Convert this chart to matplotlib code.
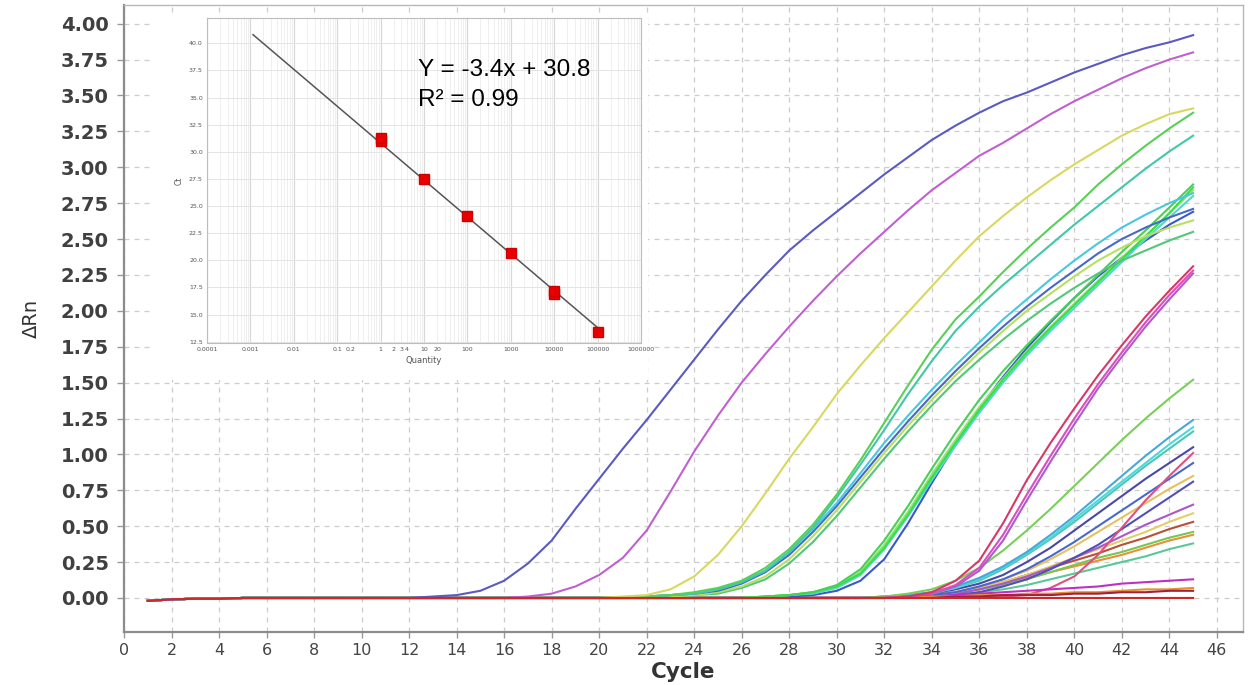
import numpy as np
import matplotlib
matplotlib.use("Agg")
import matplotlib.pyplot as plt
from matplotlib.patches import Rectangle
from matplotlib.ticker import FixedLocator, NullFormatter

# ---------------- data ----------------
cycles = list(range(1, 46))
baseline_lead = [-0.02, -0.01, -0.005, -0.005, 0.0]   # cycles 1-5 baseline readings

# Amplification curves: values from the cycle where each leaves the baseline up to cycle 45
blue_ct16 = [0.01, 0.02, 0.05, 0.12, 0.24, 0.40, 0.62, 0.83, 1.04, 1.24, 1.45, 1.66, 1.87,
             2.07, 2.25, 2.42, 2.56, 2.69, 2.82, 2.95, 3.07, 3.19, 3.29, 3.38, 3.46, 3.52,
             3.59, 3.66, 3.72, 3.78, 3.83, 3.87, 3.92]
magenta_ct20 = [0.01, 0.03, 0.08, 0.16, 0.28, 0.47, 0.74, 1.02, 1.27, 1.50, 1.70, 1.89, 2.07,
                2.24, 2.40, 2.55, 2.70, 2.84, 2.96, 3.08, 3.17, 3.27, 3.37, 3.46, 3.54, 3.62,
                3.69, 3.75, 3.80]
yellow_ct24 = [0.01, 0.02, 0.06, 0.15, 0.30, 0.50, 0.73, 0.97, 1.19, 1.42, 1.62, 1.81, 1.99,
               2.17, 2.35, 2.52, 2.66, 2.79, 2.91, 3.02, 3.12, 3.22, 3.30, 3.37, 3.41]
green_ct27a = [0.01, 0.02, 0.04, 0.07, 0.12, 0.21, 0.34, 0.51, 0.72, 0.96, 1.22, 1.48, 1.73,
               1.94, 2.10, 2.27, 2.43, 2.58, 2.72, 2.88, 3.02, 3.15, 3.27, 3.38]
teal_ct27b = [0.01, 0.02, 0.03, 0.06, 0.11, 0.19, 0.32, 0.49, 0.70, 0.93, 1.17, 1.42, 1.65,
              1.86, 2.03, 2.18, 2.32, 2.46, 2.60, 2.73, 2.86, 2.99, 3.11, 3.22]
cyan_ct28a = [0.01, 0.02, 0.03, 0.06, 0.11, 0.19, 0.32, 0.48, 0.66, 0.87, 1.08, 1.27, 1.45,
              1.62, 1.78, 1.94, 2.08, 2.22, 2.35, 2.47, 2.58, 2.67, 2.75, 2.82]
blue_ct28b = [0.01, 0.02, 0.03, 0.05, 0.10, 0.18, 0.30, 0.46, 0.64, 0.84, 1.04, 1.23, 1.41,
              1.58, 1.74, 1.89, 2.03, 2.16, 2.28, 2.40, 2.50, 2.58, 2.65, 2.71]
ygreen_ct28c = [0.01, 0.01, 0.02, 0.04, 0.08, 0.15, 0.27, 0.43, 0.61, 0.81, 1.01, 1.20, 1.38,
                1.55, 1.71, 1.86, 2.00, 2.12, 2.24, 2.35, 2.44, 2.52, 2.58, 2.63]
green_ct28d = [0.00, 0.01, 0.02, 0.03, 0.07, 0.13, 0.24, 0.39, 0.57, 0.77, 0.97, 1.16, 1.34,
               1.51, 1.66, 1.80, 1.93, 2.05, 2.16, 2.26, 2.35, 2.42, 2.49, 2.55]
green_ct32a = [0.01, 0.02, 0.04, 0.09, 0.20, 0.40, 0.64, 0.90, 1.15, 1.38, 1.58, 1.76, 1.93,
               2.09, 2.25, 2.41, 2.56, 2.72, 2.88]
lgreen_ct32b = [0.01, 0.02, 0.04, 0.08, 0.18, 0.37, 0.60, 0.86, 1.10, 1.33, 1.53, 1.72, 1.89,
                2.05, 2.21, 2.37, 2.52, 2.68, 2.84]
cyan_ct32c = [0.01, 0.02, 0.03, 0.07, 0.16, 0.34, 0.57, 0.82, 1.06, 1.29, 1.50, 1.69, 1.86,
              2.02, 2.18, 2.34, 2.50, 2.65, 2.80]
bgreen_ct32d = [0.01, 0.02, 0.04, 0.08, 0.17, 0.35, 0.58, 0.84, 1.08, 1.31, 1.52, 1.71, 1.88,
                2.04, 2.20, 2.36, 2.52, 2.68, 2.86]
royal_ct33 = [0.00, 0.01, 0.02, 0.05, 0.12, 0.27, 0.52, 0.80, 1.07, 1.32, 1.54, 1.74, 1.92,
              2.09, 2.24, 2.37, 2.49, 2.60, 2.69]
red_ct37 = [0.00, 0.01, 0.04, 0.12, 0.26, 0.52, 0.82, 1.08, 1.32, 1.55, 1.76, 1.96, 2.14, 2.31]
pink_ct37 = [0.00, 0.01, 0.03, 0.09, 0.21, 0.44, 0.72, 0.99, 1.25, 1.49, 1.71, 1.92, 2.11, 2.28]
purple_ct37 = [0.00, 0.01, 0.03, 0.08, 0.19, 0.40, 0.68, 0.95, 1.21, 1.46, 1.68, 1.89, 2.08, 2.26]
low_green = [0.01, 0.03, 0.06, 0.12, 0.21, 0.33, 0.47, 0.62, 0.78, 0.94, 1.10, 1.25, 1.39, 1.52]
low_skyblue = [0.01, 0.02, 0.04, 0.08, 0.14, 0.22, 0.32, 0.44, 0.57, 0.71, 0.85, 0.99, 1.12, 1.24]
low_cyan = [0.01, 0.02, 0.04, 0.07, 0.13, 0.21, 0.31, 0.42, 0.55, 0.68, 0.81, 0.94, 1.07, 1.19]
low_turq = [0.01, 0.02, 0.03, 0.07, 0.12, 0.20, 0.30, 0.41, 0.53, 0.66, 0.79, 0.92, 1.04, 1.16]
low_navy = [0.00, 0.01, 0.03, 0.06, 0.10, 0.16, 0.25, 0.35, 0.47, 0.59, 0.71, 0.83, 0.94, 1.05]
late_pink = [0.00, 0.00, 0.01, 0.01, 0.01, 0.02, 0.07, 0.15, 0.30, 0.49, 0.68, 0.85, 1.01]
low_blue = [0.00, 0.01, 0.02, 0.04, 0.08, 0.13, 0.20, 0.29, 0.39, 0.50, 0.61, 0.72, 0.83, 0.94]
low_gold = [0.00, 0.01, 0.02, 0.04, 0.08, 0.13, 0.19, 0.27, 0.36, 0.46, 0.56, 0.66, 0.76, 0.85]
low_slate = [0.00, 0.00, 0.01, 0.02, 0.04, 0.08, 0.13, 0.20, 0.28, 0.37, 0.48, 0.59, 0.70, 0.81]
low_violet = [0.00, 0.01, 0.02, 0.03, 0.06, 0.10, 0.15, 0.21, 0.28, 0.35, 0.43, 0.51, 0.58, 0.65]
low_yellow = [0.00, 0.01, 0.02, 0.04, 0.07, 0.11, 0.16, 0.22, 0.28, 0.34, 0.40, 0.46, 0.53, 0.59]
low_brown = [0.00, 0.01, 0.02, 0.04, 0.07, 0.11, 0.16, 0.21, 0.26, 0.31, 0.37, 0.42, 0.48, 0.53]
low_lgreen = [0.00, 0.01, 0.02, 0.03, 0.06, 0.09, 0.13, 0.18, 0.23, 0.28, 0.32, 0.37, 0.42, 0.46]
low_orange = [0.00, 0.01, 0.02, 0.04, 0.06, 0.10, 0.14, 0.18, 0.22, 0.26, 0.30, 0.35, 0.40, 0.44]
low_seagreen = [0.00, 0.00, 0.01, 0.02, 0.04, 0.06, 0.09, 0.13, 0.17, 0.21, 0.25, 0.29, 0.34, 0.38]
flat_magenta = [0.00, 0.01, 0.01, 0.02, 0.03, 0.04, 0.05, 0.06, 0.07, 0.08, 0.10, 0.11, 0.12, 0.13]
flat_orange = [0.00, 0.00, 0.01, 0.01, 0.02, 0.02, 0.03, 0.03, 0.04, 0.04, 0.05, 0.06, 0.06, 0.07]
flat_darkred = [0.00, 0.00, 0.00, 0.01, 0.01, 0.02, 0.02, 0.02, 0.03, 0.03, 0.04, 0.04, 0.05, 0.05]
flat_red = [0.00, 0.00, 0.00, 0.00, 0.00]

curves = [
    (low_seagreen, "#58c898"), (low_orange, "#e8903a"), (low_lgreen, "#78c850"),
    (low_brown, "#b85038"), (low_yellow, "#e0d068"), (low_violet, "#a858c8"),
    (low_slate, "#5050b8"), (low_gold, "#e8c060"), (low_blue, "#4868d0"),
    (late_pink, "#e05080"), (low_navy, "#4848a8"), (low_turq, "#48c8b8"),
    (low_cyan, "#50d8d8"), (low_skyblue, "#48a8d8"), (low_green, "#78d058"),
    (flat_magenta, "#c030c0"), (flat_orange, "#e89030"), (flat_darkred, "#a02040"),
    (purple_ct37, "#b058d8"), (pink_ct37, "#d850b8"), (red_ct37, "#d83868"),
    (royal_ct33, "#3858d0"), (cyan_ct32c, "#50d8c8"), (lgreen_ct32b, "#98e070"),
    (bgreen_ct32d, "#38e048"), (green_ct32a, "#48d058"),
    (green_ct28d, "#50c878"), (ygreen_ct28c, "#b8e060"), (blue_ct28b, "#4868c8"),
    (cyan_ct28a, "#48c8e0"), (teal_ct27b, "#40c8a8"), (green_ct27a, "#58d058"),
    (yellow_ct24, "#d8d860"), (magenta_ct20, "#c060d0"), (blue_ct16, "#5a5ac0"),
    (flat_red, "#d02828"),
]

# Standard curve (inset)
std_quantity = [1, 1, 10, 100, 1000, 10000, 10000, 100000]
std_ct = [31.0, 31.3, 27.5, 24.1, 20.7, 16.9, 17.2, 13.4]
fit_slope = -3.4
fit_intercept = 30.8
fit_range = [0.00115, 100000]

x_ticks = list(range(0, 47, 2))
y_ticks = [i * 0.25 for i in range(17)]
inset_yticks = [12.5, 15.0, 17.5, 20.0, 22.5, 25.0, 27.5, 30.0, 32.5, 35.0, 37.5, 40.0]
inset_xticks = [1e-4, 1e-3, 1e-2, 0.1, 0.2, 1, 2, 3, 4, 10, 20, 100, 1000, 1e4, 1e5, 1e6]
inset_xlabels = ["0.0001", "0.001", "0.01", "0.1", "0.2", "1", "2", "3", "4", "10", "20",
                 "100", "1000", "10000", "100000", "1000000"]


def full_series(tail):
    n_zero = len(cycles) - len(tail)
    series = [0.0] * n_zero + list(tail)
    for i, v in enumerate(baseline_lead):
        if i < n_zero:
            series[i] = v
    return series


# ---------------- figure ----------------
W, H = 1250, 685
fig = plt.figure(figsize=(W / 100, H / 100), dpi=100)
fig.patch.set_facecolor("white")

L, R, T, B = 124, 1243, 5, 632
ax = fig.add_axes([L / W, 1 - B / H, (R - L) / W, (B - T) / H])
ax.set_xlim(0, 47.1)
ax.set_ylim(-0.237, 4.13)

for tail, col in curves:
    ax.plot(cycles, full_series(tail), color=col, lw=1.5, solid_joinstyle="round",
            zorder=3)

ax.set_xticks(x_ticks)
ax.set_yticks(y_ticks)
ax.set_yticklabels([f"{v:.2f}" for v in y_ticks])
ax.grid(True, color="#cccccc", lw=0.9, linestyle=(0, (4, 4)), zorder=0)
ax.set_axisbelow(True)
for sp in ax.spines.values():
    sp.set_color("#b8b8b8")
    sp.set_linewidth(1.0)
ax.spines["left"].set_color("#8c8c8c")
ax.spines["left"].set_linewidth(1.6)
ax.spines["bottom"].set_color("#8c8c8c")
ax.spines["bottom"].set_linewidth(1.6)
ax.tick_params(axis="y", direction="out", length=5, width=1, color="#999999",
               pad=6, labelsize=14, labelcolor="#404040")
ax.tick_params(axis="x", direction="out", length=4, width=1, color="#999999",
               pad=4, labelsize=11.5, labelcolor="#444444")
for lab in ax.get_yticklabels():
    lab.set_fontweight("bold")

ax.set_xlabel("Cycle", fontsize=15.5, fontweight="bold", color="#333333")
ax.xaxis.set_label_coords(0.5, -0.064)
ax.xaxis.label.set_va("center")
ax.set_ylabel("ΔRn", fontsize=14, color="#333333")
ax.yaxis.set_label_coords(-0.083, 0.5)
ax.yaxis.label.set_va("center")

# white backing for the inset
fig.patches.append(Rectangle((152 / W, 1 - 380 / H), (648 - 152) / W, (380 - 14) / H,
                             transform=fig.transFigure, facecolor="white",
                             edgecolor="none", zorder=5))

# ---------------- inset ----------------
iL, iR, iT, iB = 207, 641, 18, 343
ins = fig.add_axes([iL / W, 1 - iB / H, (iR - iL) / W, (iB - iT) / H], zorder=6)
ins.set_xscale("log")
ins.set_xlim(1e-4, 1e6)
ins.set_ylim(12.38, 42.33)

minor = [m * 10.0 ** e for e in range(-4, 6) for m in range(2, 10)]
for xv in minor:
    ins.axvline(xv, color="#ededed", lw=0.6, zorder=0)
for e in range(-4, 7):
    ins.axvline(10.0 ** e, color="#d8d8d8", lw=0.9, zorder=0)
for yv in inset_yticks:
    ins.axhline(yv, color="#e4e4e4", lw=0.7, zorder=0)

qline = np.array(fit_range, dtype=float)
ins.plot(qline, fit_slope * np.log10(qline) + fit_intercept, color="#555555", lw=1.1,
         zorder=2)
ins.plot(std_quantity, std_ct, linestyle="none", marker="s", markersize=7.5,
         color="#e80000", markeredgecolor="#d00000", zorder=3)

ins.xaxis.set_major_locator(FixedLocator(inset_xticks))
ins.xaxis.set_minor_formatter(NullFormatter())
ins.set_xticks(inset_xticks)
ins.set_xticklabels(inset_xlabels)
ins.set_yticks(inset_yticks)
ins.set_yticklabels([f"{v:.1f}" for v in inset_yticks])
ins.tick_params(axis="both", which="both", length=0, labelsize=4.5, labelcolor="#555555",
                pad=3)
for sp in ins.spines.values():
    sp.set_color("#bdbdbd")
    sp.set_linewidth(0.8)
ins.set_xlabel("Quantity", fontsize=6, color="#555555", labelpad=3)
ins.set_ylabel("Ct", fontsize=5.5, color="#555555", labelpad=4)

ins.text(0.486, 0.84, "Y = -3.4x + 30.8", transform=ins.transAxes, fontsize=17.5,
         family=["Liberation Sans", "DejaVu Sans"], color="black", va="center", ha="left")
ins.text(0.486, 0.748, "R² = 0.99", transform=ins.transAxes, fontsize=17.5,
         family=["Liberation Sans", "DejaVu Sans"], color="black", va="center", ha="left")

fig.savefig("out.png", dpi=100, facecolor="white")
